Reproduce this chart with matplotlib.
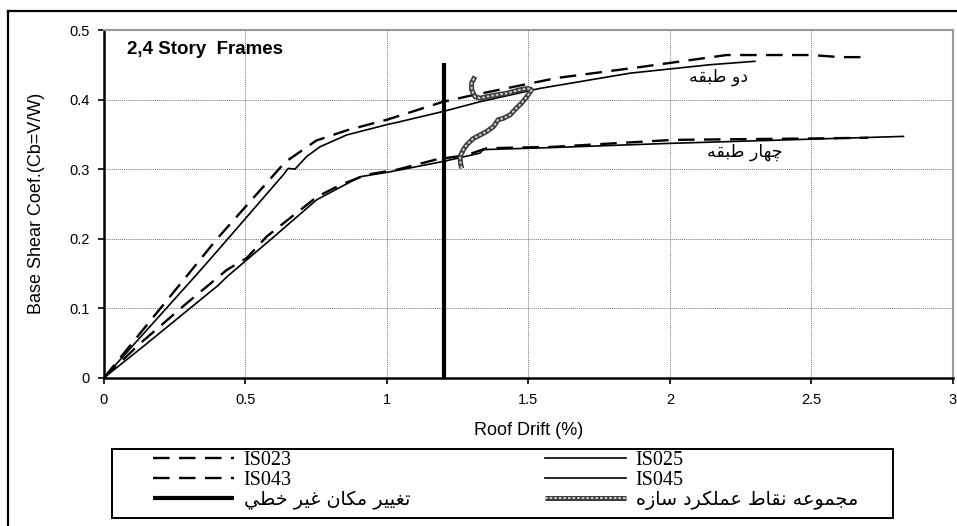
import matplotlib
matplotlib.use("Agg")
import matplotlib.pyplot as plt
from matplotlib.lines import Line2D
from matplotlib.patches import Rectangle
from matplotlib.legend_handler import HandlerTuple

# ---------------- data ----------------
is023_x = [0, 0.06, 0.30, 0.40, 0.64, 0.75, 0.86, 1.00, 1.20, 1.30, 1.60, 1.90, 2.20, 2.50, 2.60, 2.70]
is023_y = [0, 0.030, 0.150, 0.200, 0.310, 0.341, 0.356, 0.371, 0.397, 0.406, 0.431, 0.447, 0.464, 0.464, 0.461, 0.461]

is025_x = [0, 0.32, 0.40, 0.634, 0.651, 0.675, 0.716, 0.763, 0.857, 1.00, 1.034, 1.20, 1.33, 1.54, 1.86, 2.14, 2.30]
is025_y = [0, 0.145, 0.182, 0.292, 0.301, 0.300, 0.318, 0.332, 0.349, 0.364, 0.367, 0.383, 0.397, 0.416, 0.438, 0.450, 0.455]

is043_x = [0, 0.127, 0.292, 0.434, 0.504, 0.575, 0.752, 0.834, 0.928, 1.034, 1.176, 1.28, 1.352, 1.588, 2.012, 2.495, 2.70]
is043_y = [0, 0.049, 0.107, 0.155, 0.172, 0.203, 0.260, 0.277, 0.292, 0.299, 0.314, 0.320, 0.330, 0.332, 0.342, 0.344, 0.345]

is045_x = [0, 0.139, 0.404, 0.434, 0.587, 0.752, 0.905, 1.01, 1.199, 1.329, 1.34, 1.588, 2.00, 2.825]
is045_y = [0, 0.045, 0.133, 0.145, 0.198, 0.256, 0.289, 0.296, 0.311, 0.323, 0.328, 0.331, 0.337, 0.347]

nonlin_x = [1.2, 1.2]
nonlin_y = [0.0, 0.452]

perf_x = [1.264, 1.260, 1.258, 1.270, 1.282, 1.305, 1.329, 1.352, 1.376, 1.393, 1.411, 1.435, 1.458,
          1.476, 1.494, 1.511, 1.499, 1.470, 1.423, 1.376, 1.329, 1.311, 1.299, 1.299, 1.311]
perf_y = [0.301, 0.308, 0.318, 0.328, 0.335, 0.344, 0.349, 0.354, 0.361, 0.371, 0.373, 0.378, 0.388,
          0.395, 0.404, 0.414, 0.416, 0.414, 0.409, 0.406, 0.402, 0.404, 0.414, 0.424, 0.433]

x_ticks = [0, 0.5, 1, 1.5, 2, 2.5, 3]
x_tick_labels = ["0", "0.5", "1", "1.5", "2", "2.5", "3"]
y_ticks = [0, 0.1, 0.2, 0.3, 0.4, 0.5]
y_tick_labels = ["0", "0.1", "0.2", "0.3", "0.4", "0.5"]

# Persian labels (pre-shaped presentation forms, visual order)
lbl_two = "\uFEEA\uFED8\uFE92\uFEC3 \uFEED\uFEA9"                # دو طبقه
lbl_four = "\uFEEA\uFED8\uFE92\uFEC3 \uFEAD\uFE8E\uFEEC\uFB7C"   # چهار طبقه
lbl_nonlin = ("\uFEF2\uFEC4\uFEA7 \uFEAE\uFEF4\uFECF "
              "\uFEE5\uFE8E\uFEDC\uFEE3 \uFEAE\uFEF4\uFEF4\uFED0\uFE97")  # تغيير مكان غير خطي
lbl_perf = ("\uFEE9\uFEAF\uFE8E\uFEB3 \uFEA9\uFEAE\uFEDC\uFEE0\uFEE4\uFECB "
            "\uFEC1\uFE8E\uFED8\uFEE7 \uFEEA\uFECB\uFEEE\uFEE4\uFEA0\uFEE3")  # مجموعه نقاط عملكرد سازه

# ---------------- figure ----------------
W, H = 957, 526
fig = plt.figure(figsize=(W / 100, H / 100), dpi=100)
fig.patch.set_facecolor("white")

ax = fig.add_axes([104 / W, 1 - 377.7 / H, (953 - 104) / W, (377.7 - 30) / H])

dash = (7, 4)
l023, = ax.plot(is023_x, is023_y, color="black", lw=1.7, dashes=dash, label="IS023")
l043, = ax.plot(is043_x, is043_y, color="black", lw=1.7, dashes=dash, label="IS043")
lnl, = ax.plot(nonlin_x, nonlin_y, color="black", lw=3.0, solid_capstyle="butt", label=lbl_nonlin)
l025, = ax.plot(is025_x, is025_y, color="black", lw=1.2, label="IS025")
l045, = ax.plot(is045_x, is045_y, color="black", lw=1.2, label="IS045")
lpf_out, = ax.plot(perf_x, perf_y, color="#3a3a3a", lw=3.6, solid_capstyle="butt",
                   solid_joinstyle="round")
lpf_in, = ax.plot(perf_x, perf_y, color="#c8c8c8", lw=1.5, dashes=(1.3, 0.9),
                  dash_capstyle="butt")

ax.set_xlim(0, 3)
ax.set_ylim(0, 0.5)
ax.set_xticks(x_ticks)
ax.set_xticklabels(x_tick_labels)
ax.set_yticks(y_ticks)
ax.set_yticklabels(y_tick_labels)

font = "Liberation Sans"
for lab in ax.get_xticklabels() + ax.get_yticklabels():
    lab.set_fontfamily(font)
    lab.set_fontsize(10.5)
ax.tick_params(axis="both", direction="out", length=4, width=1.2, color="black")
ax.tick_params(axis="y", pad=6)
ax.tick_params(axis="x", pad=7)

ax.grid(True, color="#777777", linestyle=(0, (1, 1)), linewidth=0.7)
ax.set_axisbelow(True)
for s in ["left", "bottom"]:
    ax.spines[s].set_linewidth(1.8)
    ax.spines[s].set_color("black")
for s in ["top", "right"]:
    ax.spines[s].set_linewidth(1.5)
    ax.spines[s].set_color("#999999")

ax.set_xlabel("Roof Drift (%)", fontfamily=font, fontsize=13, labelpad=11)
ax.set_ylabel("Base Shear Coef.(Cb=V/W)", fontfamily=font, fontsize=13, labelpad=18)

ax.text(0.081, 0.4715, "2,4 Story  Frames", fontfamily=font, fontweight="bold",
        fontsize=13.5, va="center", ha="left")
ax.text(2.171, 0.4327, lbl_two, fontfamily="DejaVu Sans", fontsize=12.5, va="center", ha="center")
ax.text(2.263, 0.325, lbl_four, fontfamily="DejaVu Sans", fontsize=12.5, va="center", ha="center")

# outer frame
fig.add_artist(Line2D([8 / W, 1.0], [1 - 11 / H, 1 - 11 / H], color="black", lw=1.6,
                      transform=fig.transFigure))
fig.add_artist(Line2D([8 / W, 8 / W], [0, 1 - 11 / H], color="black", lw=1.6,
                      transform=fig.transFigure))

# legend frame
fig.add_artist(Rectangle((112 / W, 1 - 518 / H), (893 - 112) / W, (518 - 449) / H,
                         fill=False, edgecolor="black", lw=1.4, transform=fig.transFigure))


def make_legend(hs, labels, x_px, y_px):
    lg = fig.legend(hs, labels, loc="upper left",
                    bbox_to_anchor=(x_px / W, 1 - y_px / H), ncol=1, frameon=False,
                    handlelength=4.0, handletextpad=0.5, labelspacing=0.02, borderpad=0.0,
                    borderaxespad=0.0, prop={"family": "Liberation Serif", "size": 14.5},
                    handler_map={tuple: HandlerTuple(ndivide=1, pad=0)})
    for t in lg.get_texts():
        if t.get_text().startswith("IS"):
            t.set_fontfamily("Liberation Serif")
            t.set_fontsize(14.5)
        else:
            t.set_fontfamily("DejaVu Sans")
            t.set_fontsize(13.8)
    return lg


make_legend([l023, l043, lnl], ["IS023", "IS043", lbl_nonlin], 153, 451)
make_legend([l025, l045, (lpf_out, lpf_in)], ["IS025", "IS045", lbl_perf], 545, 451)

fig.savefig("out.png", dpi=100, facecolor="white")
